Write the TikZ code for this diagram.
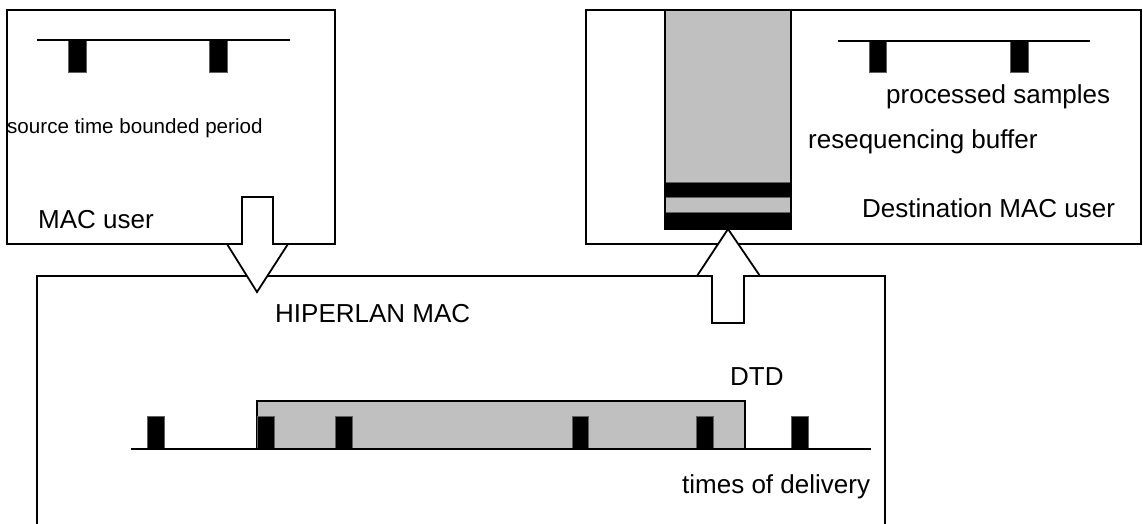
\documentclass[tikz,border=0pt]{standalone}
\usepackage{fontspec}
\setmainfont{Liberation Sans}
\definecolor{bufgray}{HTML}{C0C0C0}
\definecolor{edgegray}{HTML}{606060}
\begin{document}
\begin{tikzpicture}[x=1pt,y=-1pt,
  frame/.style={draw=black,line width=1.8pt,fill=white},
  tline/.style={draw=black,line width=1.8pt},
  pulse/.style={fill=black,draw=edgegray,line width=0.8pt},
  blockarrow/.style={draw=black,line width=1.8pt,fill=white,line join=miter},
  lbl/.style={anchor=base west,inner sep=0pt,font=\fontsize{26}{30}\selectfont},
  small/.style={anchor=base west,inner sep=0pt,font=\fontsize{20.6}{24}\selectfont},
  grayarea/.style={fill=bufgray,draw=black,line width=1.8pt}]
\useasboundingbox (0,0) rectangle (1143,523);
\clip (0,0) rectangle (1143,523);
\fill[white] (0,0) rectangle (1143,523);
% boxes
\draw[frame] (7,10) rectangle (335,244);
\coordinate (srcbox) at (171,127);
\draw[frame] (586,10) rectangle (1141,244);
\draw[frame] (37,276) rectangle (885,545);
% source timeline
\draw[pulse] (68,40) rectangle (86,72);
\draw[pulse] (209,40) rectangle (227,72);
\draw[tline] (37,40) -- (290,40);
% destination timeline
\draw[pulse] (869,41) rectangle (886,72);
\draw[pulse] (1010,41) rectangle (1028,72);
\draw[tline] (838,41) -- (1090,41);
% resequencing buffer
\fill[bufgray] (665,10) rectangle (791,229);
\draw[pulse] (665,182) rectangle (791,197);
\draw[fill=bufgray,draw=edgegray,line width=0.8pt] (665,197) rectangle (791,212);
\draw[pulse] (665,212) rectangle (791,229);
\draw[line width=1.8pt] (665,10) rectangle (791,229);
\coordinate (bufbottom) at (728,229);
% delivery area
\draw[grayarea] (257,449) -- (257,401) -- (745,401) -- (745,449);
\foreach \a/\b in {147/164,257/274,335/352,572/588,696/713,791/808}
  \draw[pulse] (\a,416) rectangle (\b,449);
\draw[tline] (131,449) -- (871,449);
% block arrows
\draw[blockarrow] (242,197) -- (273,197) -- (273,244) -- (288,244) -- (257,292) -- (227,244) -- (242,244) -- cycle;
\draw[blockarrow] (712,323) -- (744,323) -- (744,276) -- (760,276) -- (bufbottom) -- (697,276) -- (712,276) -- cycle;
% labels
\node[small] (src) at (7,133) {source time bounded period};
\node[lbl] (macuser) at (38,228) {MAC user};
\node[lbl] (proc) at (886,103) {processed samples};
\node[lbl] (reseq) at (808,148) {resequencing buffer};
\node[lbl] (dest) at (862,217) {Destination MAC user};
\node[lbl] (hmac) at (275,322) {HIPERLAN MAC};
\node[lbl] (dtd) at (730,385) {DTD};
\node[lbl] (tod) at (682,493) {times of delivery};
\end{tikzpicture}
\end{document}
